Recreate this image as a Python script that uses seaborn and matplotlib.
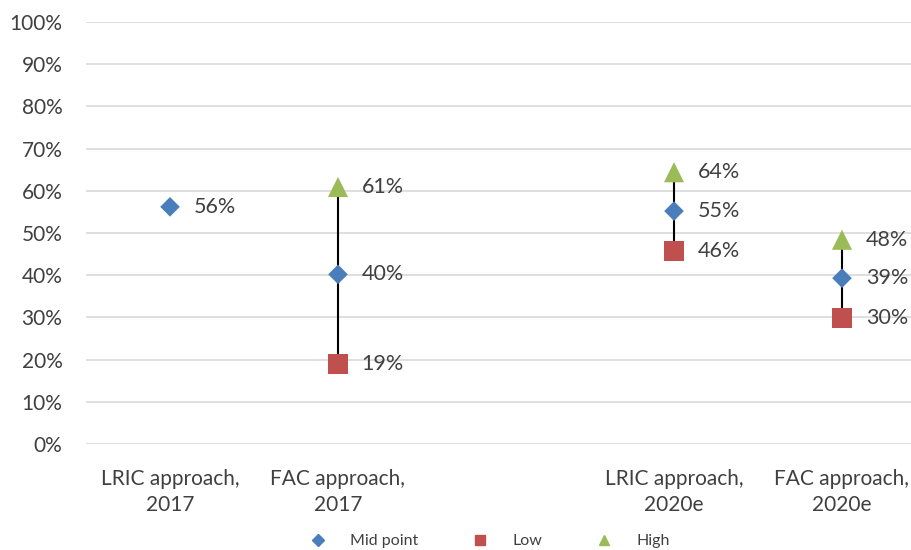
import numpy as np
import pandas as pd
import matplotlib
matplotlib.use("Agg")
import matplotlib.pyplot as plt
import seaborn as sns
from matplotlib.ticker import PercentFormatter

categories = ["LRIC approach,\n2017", "FAC approach,\n2017", "",
              "LRIC approach,\n2020e", "FAC approach,\n2020e"]
mid_point = [0.562, 0.402, np.nan, 0.552, 0.393]
low = [np.nan, 0.19, np.nan, 0.457, 0.299]
high = [np.nan, 0.609, np.nan, 0.644, 0.484]

series_names = ["Mid point", "Low", "High"]
colors = {"Mid point": "#4a7ebb", "Low": "#c0504d", "High": "#9bbb59"}
markers = {"Mid point": "D", "Low": "s", "High": "^"}
sizes = {"Mid point": 10, "Low": 14.5, "High": 14.5}

pos = np.arange(len(categories))
df = pd.DataFrame({"pos": pos, "Mid point": mid_point, "Low": low, "High": high})
long = df.melt(id_vars="pos", var_name="series", value_name="value").dropna()

sns.set_style("white")
plt.rcParams["font.family"] = ["Lato", "DejaVu Sans"]

fig = plt.figure(figsize=(9.12, 5.5), dpi=100)
ax = fig.add_axes([86 / 912, 106 / 550, 840 / 912, 422 / 550])

# range lines from low to high
rng = df.dropna(subset=["Low", "High"])
ax.vlines(rng["pos"], rng["Low"], rng["High"], color="black", lw=1.5, zorder=2)

for name in series_names:
    sub = long[long["series"] == name]
    sns.scatterplot(data=sub, x="pos", y="value", ax=ax, color=colors[name],
                    marker=markers[name], s=(sizes[name] ** 2), edgecolor="none",
                    zorder=3, legend=False)
    for _, r in sub.iterrows():
        ax.annotate(f"{r['value']:.0%}", (r["pos"], r["value"]),
                    xytext=(17, 0), textcoords="offset points", va="center",
                    ha="left", fontsize=15.5, color="#404040")

ax.set_xlim(-0.5, len(categories) - 0.5)
ax.set_ylim(0, 1)
ax.set_yticks(np.arange(0, 1.01, 0.1))
ax.yaxis.set_major_formatter(PercentFormatter(1.0, decimals=0))
ax.set_xticks(pos)
ax.set_xticklabels(categories, linespacing=1.4)
ax.grid(axis="y", color="#d9d9d9", lw=1.2)
ax.set_axisbelow(True)
for s in ax.spines.values():
    s.set_visible(False)
ax.tick_params(axis="both", length=0, labelsize=15, colors="#404040")
ax.tick_params(axis="y", pad=17)
ax.tick_params(axis="x", pad=18)
ax.set_xlabel("")
ax.set_ylabel("")

handles = [plt.Line2D([], [], ls="none", marker=markers[n], color=colors[n],
                      markersize=6 if n == "Mid point" else 7.5) for n in series_names]
fig.legend(handles, series_names, loc="center", bbox_to_anchor=(0.537, 0.016),
           ncol=3, frameon=False, fontsize=11.5, columnspacing=3.4, handlelength=1,
           handletextpad=1.5, labelcolor="#404040")

fig.savefig("out.png", dpi=100)
